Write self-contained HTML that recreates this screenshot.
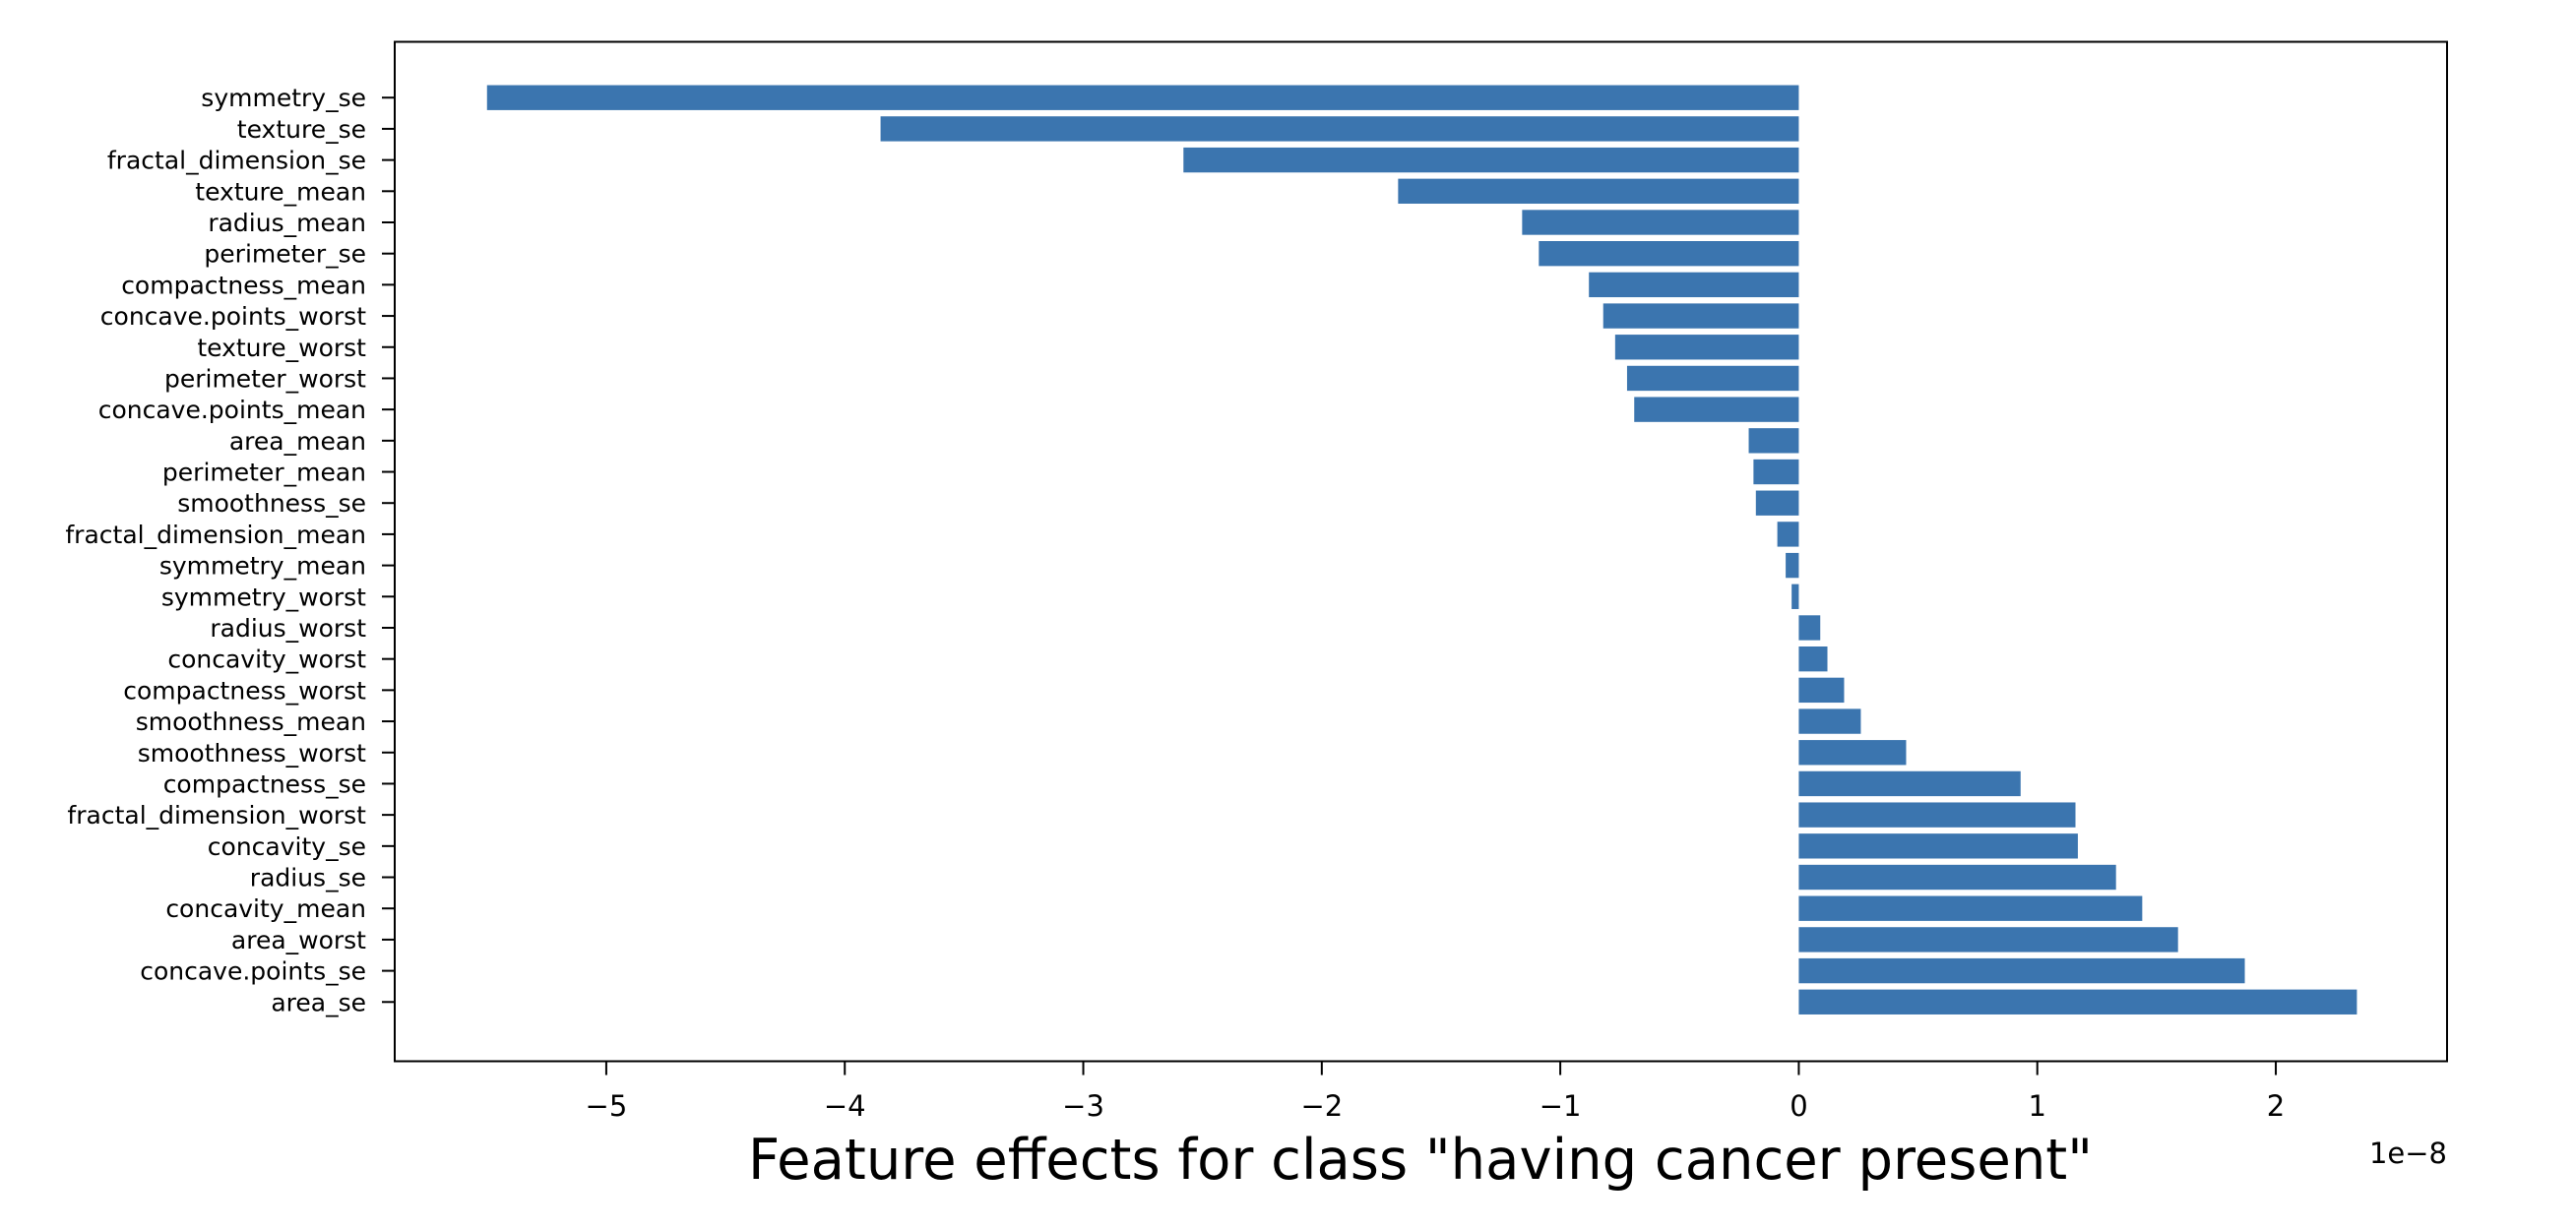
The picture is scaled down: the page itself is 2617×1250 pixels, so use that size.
<!DOCTYPE html>
<html><head><meta charset="utf-8"><style>
html,body{margin:0;padding:0;background:#fff;}
svg{display:block;font-family:"DejaVu Sans","Liberation Sans",sans-serif;}
</style></head><body>
<svg id="chart" width="2617" height="1250" viewBox="0 0 2617 1250" xmlns="http://www.w3.org/2000/svg">
<rect width="2617" height="1250" fill="#fff"/>
<g id="bars"></g>
<g id="yticks"></g>
<g id="xticks"></g>
<rect x="401" y="42.5" width="2085" height="1036" fill="none" stroke="#000" stroke-width="2"/>
<text x="1443" y="1198" font-size="57" text-anchor="middle" textLength="1366" lengthAdjust="spacingAndGlyphs" fill="#000">Feature effects for class "having cancer present"</text>
<text x="2486" y="1182" font-size="29" text-anchor="end" fill="#000">1e−8</text>
</svg>
<script>
const categories = ["symmetry_se","texture_se","fractal_dimension_se","texture_mean","radius_mean","perimeter_se","compactness_mean","concave.points_worst","texture_worst","perimeter_worst","concave.points_mean","area_mean","perimeter_mean","smoothness_se","fractal_dimension_mean","symmetry_mean","symmetry_worst","radius_worst","concavity_worst","compactness_worst","smoothness_mean","smoothness_worst","compactness_se","fractal_dimension_worst","concavity_se","radius_se","concavity_mean","area_worst","concave.points_se","area_se"];
const values = [-5.50,-3.85,-2.58,-1.68,-1.16,-1.09,-0.88,-0.82,-0.77,-0.72,-0.69,-0.21,-0.19,-0.18,-0.09,-0.055,-0.03,0.09,0.12,0.19,0.26,0.45,0.93,1.16,1.17,1.33,1.44,1.59,1.87,2.34];
const xTicks = [-5,-4,-3,-2,-1,0,1,2];
const xTickLabels = ["−5","−4","−3","−2","−1","0","1","2"];

const NS = "http://www.w3.org/2000/svg";
const plotLeft = 401, plotRight = 2486, plotTop = 42.5, plotBottom = 1078.5;
const xMin = -5.887, xMax = 2.718;
function xScale(v){ return plotLeft + (v - xMin) / (xMax - xMin) * (plotRight - plotLeft); }
const nCat = categories.length;
function yScale(i){ return plotTop + (i + 1.79) / ((nCat - 1 + 1.9) + 1.79) * (plotBottom - plotTop); }
const bandStep = yScale(1) - yScale(0);

const barsG = document.getElementById('bars');
const yG = document.getElementById('yticks');
const xG = document.getElementById('xticks');
categories.forEach((c, i) => {
  const v = values[i];
  const cy = yScale(i);
  const x0 = xScale(0), x1 = xScale(v);
  const r = document.createElementNS(NS, 'rect');
  r.setAttribute('x', Math.min(x0, x1));
  r.setAttribute('width', Math.abs(x1 - x0));
  r.setAttribute('y', cy - bandStep * 0.4);
  r.setAttribute('height', bandStep * 0.8);
  r.setAttribute('fill', '#3b75af');
  
  
  barsG.appendChild(r);

  const t = document.createElementNS(NS, 'line');
  t.setAttribute('x1', plotLeft - 13); t.setAttribute('x2', plotLeft);
  t.setAttribute('y1', cy); t.setAttribute('y2', cy);
  t.setAttribute('stroke', '#000'); t.setAttribute('stroke-width', '2');
  
  
  yG.appendChild(t);

  const l = document.createElementNS(NS, 'text');
  l.setAttribute('x', plotLeft - 29);
  l.setAttribute('y', cy + 9);
  l.setAttribute('font-size', '25');
  l.setAttribute('text-anchor', 'end');
  l.setAttribute('fill', '#000');
  l.textContent = c;
  
  
  yG.appendChild(l);
});
xTicks.forEach((v, i) => {
  const x = xScale(v);
  const t = document.createElementNS(NS, 'line');
  t.setAttribute('x1', x); t.setAttribute('x2', x);
  t.setAttribute('y1', plotBottom); t.setAttribute('y2', plotBottom + 14);
  t.setAttribute('stroke', '#000'); t.setAttribute('stroke-width', '2');
  
  
  xG.appendChild(t);
  const l = document.createElementNS(NS, 'text');
  l.setAttribute('x', x);
  l.setAttribute('y', 1134);
  l.setAttribute('font-size', '29');
  l.setAttribute('text-anchor', 'middle');
  l.setAttribute('fill', '#000');
  l.textContent = xTickLabels[i];
  
  
  xG.appendChild(l);
});
</script>
</body></html>
